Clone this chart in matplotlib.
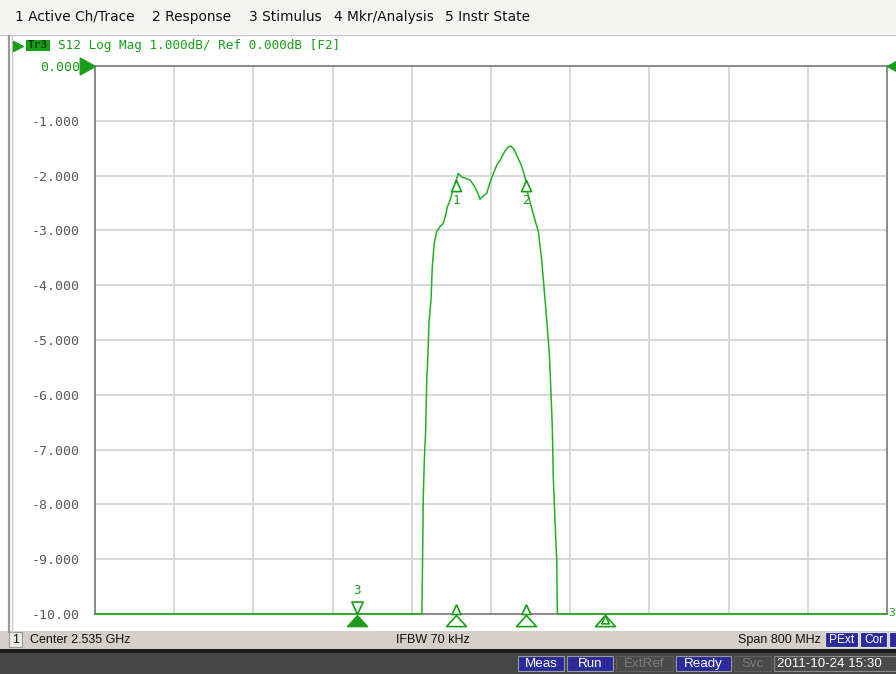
import numpy as np
import matplotlib
matplotlib.use('Agg')
import matplotlib.pyplot as plt
import matplotlib.transforms as mtransforms
from matplotlib.patches import Rectangle
from matplotlib.path import Path

# ---------------- data ----------------
freq_ghz = [2.1350, 2.2500, 2.3500, 2.4000, 2.4400, 2.4600, 2.4652, 2.4656,
            2.4666, 2.4676, 2.4690, 2.4701, 2.4711, 2.4724, 2.4744, 2.4757,
            2.4777, 2.4802, 2.4835, 2.4868, 2.4892, 2.4909, 2.4936, 2.4966,
            2.5000, 2.5020, 2.5057, 2.5097, 2.5138, 2.5178, 2.5219, 2.5239,
            2.5269, 2.5307, 2.5340, 2.5370, 2.5411, 2.5441, 2.5491, 2.5522,
            2.5552, 2.5582, 2.5623, 2.5653, 2.5676, 2.5700, 2.5724, 2.5794,
            2.5828, 2.5862, 2.5885, 2.5913, 2.5939, 2.5956, 2.5969, 2.5979,
            2.5996, 2.6014, 2.6020, 2.6200, 2.6500, 2.7500, 2.8500, 2.9350]
s12_db = [-55.0, -48.0, -44.0, -38.367, -30.0, -20.0, -12.0, -9.43,
          -7.86, -7.22, -6.64, -5.73, -5.36, -4.67, -4.27, -3.66,
          -3.23, -3.02, -2.93, -2.87, -2.72, -2.57, -2.45, -2.26,
          -2.0717, -1.96, -2.03, -2.05, -2.08, -2.18, -2.33, -2.43,
          -2.38, -2.32, -2.13, -1.98, -1.80, -1.72, -1.55, -1.48,
          -1.46, -1.52, -1.68, -1.80, -1.92, -2.0758, -2.35, -2.81,
          -3.02, -3.54, -4.03, -4.64, -5.24, -5.97, -6.58, -7.49,
          -8.28, -9.01, -10.5, -25.0, -46.93, -55.0, -58.0, -60.0]

marker_ids = ['1', '2', '3', '4']
marker_freq_ghz = [2.500, 2.570, 2.400, 2.650]
marker_db = [-2.0717, -2.0758, -38.367, -46.930]
active_marker = '3'

center_ghz = 2.535
span_mhz = 800
ifbw_khz = 70
ref_db = 0.0
scale_db = 1.0
n_div = 10

y_tick_labels = ['0.000', '-1.000', '-2.000', '-3.000', '-4.000', '-5.000',
                 '-6.000', '-7.000', '-8.000', '-9.000', '-10.00']
menu_items = ['1 Active Ch/Trace', '2 Response', '3 Stimulus',
              '4 Mkr/Analysis', '5 Instr State']
menu_x = [15, 152, 249, 334, 445]

GREEN = '#1a9e1a'
GRID = '#d6d6d6'
FRAME = '#8a8a8a'
MONO = 'DejaVu Sans Mono'

W, H = 896, 674
fig = plt.figure(figsize=(W / 100, H / 100), dpi=100)
fig.patch.set_facecolor('white')

# background / decoration axes in pixel coordinates
bg = fig.add_axes([0, 0, 1, 1], zorder=0)
bg.set_xlim(0, W)
bg.set_ylim(H, 0)
bg.axis('off')

# menu bar
bg.add_patch(Rectangle((0, 0), W, 34, color='#f4f4f2', lw=0))
bg.plot([0, W], [34.5, 34.5], color='#c8c8c8', lw=1)
for txt, x in zip(menu_items, menu_x):
    bg.text(x, 17, txt, fontsize=9.9, family='DejaVu Sans', color='#111111',
            va='center', ha='left')

# window frame left
bg.plot([8.5, 8.5], [36, 632], color='#9a9a9a', lw=1.6)
bg.plot([11.5, 11.5], [36, 632], color='#c8c8c8', lw=1.0)

# title line
bg.plot([18], [45.5], marker='>', color=GREEN, ms=7, mec=GREEN)
bg.add_patch(Rectangle((26, 40), 24, 11, color='#14a014', lw=0))
bg.text(38, 45.5, 'Tr3', fontsize=8, family=MONO, color='#0a3a0a',
        ha='center', va='center', fontweight='bold')
bg.text(58, 45.5, f'S12 Log Mag {scale_db:.3f}dB/ Ref {ref_db:.3f}dB [F2]',
        fontsize=9.2, family=MONO, color=GREEN, ha='left', va='center')

# ---------------- main plot ----------------
L, R, T, B = 95, 887, 66, 614
ax = fig.add_axes([L / W, 1 - B / H, (R - L) / W, (B - T) / H], zorder=1)
ax.set_facecolor('white')
f_start = center_ghz - span_mhz / 2000
f_stop = center_ghz + span_mhz / 2000
y_bot = ref_db - n_div * scale_db
ax.set_xlim(f_start, f_stop)
ax.set_ylim(y_bot, ref_db)
ax.set_xticks(np.linspace(f_start, f_stop, n_div + 1))
ax.set_xticklabels([])
ax.set_yticks(np.linspace(ref_db, y_bot, n_div + 1))
ax.set_yticklabels(y_tick_labels, family=MONO, fontsize=9.5)
for i, lab in enumerate(ax.get_yticklabels()):
    lab.set_color(GREEN if i == 0 else '#5a5a5a')
ax.tick_params(length=0, pad=11)
ax.grid(True, color=GRID, lw=1.3)
ax.set_axisbelow(True)
for s in ax.spines.values():
    s.set_color(FRAME)
    s.set_linewidth(1.4)

# trace (clipped to screen like the instrument)
trace_disp = np.clip(np.array(s12_db), y_bot, ref_db)
ax.plot(freq_ghz, trace_disp, color='#22b022', lw=1.1, zorder=3, clip_on=False)

# marker table
rows_y = [80, 94, 108, 122]
for mid, mf, mv, y in zip(marker_ids, marker_freq_ghz, marker_db, rows_y):
    lab = ('>' + mid) if mid == active_marker else mid
    kw = dict(fontsize=9.2, family=MONO, color=GREEN, va='center')
    bg.text(118, y, lab, ha='right', **kw)
    bg.text(136, y, f'{mf:.9f}', ha='left', **kw)
    bg.text(237, y, 'GHz', ha='left', **kw)
    bg.text(263, y, f'{mv:.4f}' if abs(mv) < 10 else f'{mv:.3f}', ha='left', **kw)
    bg.text(333, y, 'dB', ha='left', **kw)

# marker symbols
tri_up = Path([(0, 0), (-0.45, -1), (0.45, -1), (0, 0)])
tri_down = Path([(0, 0), (-0.45, 1), (0.45, 1), (0, 0)])
small_on_line = Path([(0, 1), (-0.45, 0), (0.45, 0), (0, 1)])
wide_up = Path([(0, 0), (-0.9, -1), (0.9, -1), (0, 0)])
ms_kw = dict(color=GREEN, mfc='white', mec=GREEN, mew=1.2, ls='none',
             clip_on=False, zorder=5)
below = mtransforms.offset_copy(ax.transData, fig=fig, x=0, y=-1, units='dots')
for mid, mf, mv in zip(marker_ids, marker_freq_ghz, marker_db):
    vis = max(mv, y_bot)
    if mid == active_marker:
        ax.plot([mf], [vis], marker=tri_down, ms=18, **ms_kw)
        ax.annotate(mid, (mf, vis), xytext=(0, 17), textcoords='offset points',
                    ha='center', va='center', fontsize=9, family=MONO, color=GREEN)
        ax.plot([mf], [y_bot], marker=wide_up, ms=16, color=GREEN, mec=GREEN,
                ls='none', clip_on=False, zorder=5, transform=below)
    else:
        if mv >= y_bot:
            ax.plot([mf], [mv], marker=tri_up, ms=16, **ms_kw)
            ax.annotate(mid, (mf, mv), xytext=(0, -15), textcoords='offset points',
                        ha='center', va='center', fontsize=9, family=MONO,
                        color=GREEN)
            ax.plot([mf], [y_bot], marker=small_on_line, ms=14, **ms_kw)
        ax.plot([mf], [y_bot], marker=wide_up, ms=16, transform=below, **ms_kw)
        if mv < y_bot:
            ax.plot([mf], [y_bot], marker=tri_up, ms=12, transform=below, **ms_kw)

# reference level arrows
ax.plot([f_start], [ref_db], marker=Path([(0, 0), (-1, 0.55), (-1, -0.55), (0, 0)]),
        ms=22, color=GREEN, mec=GREEN, clip_on=False, zorder=6)
ax.plot([f_stop], [ref_db], marker=Path([(0, 0), (1, 0.55), (1, -0.55), (0, 0)]),
        ms=22, color=GREEN, mec=GREEN, clip_on=False, zorder=6)
ax.annotate('3', (f_stop, y_bot), xytext=(1, 1), textcoords='offset points',
            ha='left', va='center', fontsize=8, family=MONO, color=GREEN)

# ---------------- status bars ----------------
bg.add_patch(Rectangle((0, 631), W, 18, color='#d4d0c8', lw=0))
bg.add_patch(Rectangle((9, 632), 13, 15, fc='#ecebe6', ec='#9a9a9a', lw=0.8))
sb = dict(fontsize=9.0, family='Liberation Sans', color='#111111', va='center')
bg.text(15.5, 640, '1', ha='center', **sb)
bg.text(30, 640, f'Center {center_ghz:.3f} GHz', ha='left', **sb)
bg.text(433, 640, f'IFBW {ifbw_khz} kHz', ha='center', **sb)
bg.text(821, 640, f'Span {span_mhz} MHz', ha='right', **sb)
for x0, x1, t in [(825, 858, 'PExt'), (860, 887, 'Cor'), (889, 900, '')]:
    bg.add_patch(Rectangle((x0, 632), x1 - x0, 15, fc='#2b2b9b', ec='#e0e0e0', lw=0.8))
    bg.text((x0 + x1) / 2, 640, t, ha='center', fontsize=8.6,
            family='Liberation Sans', color='white', va='center')

bg.add_patch(Rectangle((0, 649), W, 4, color='#1c1c1c', lw=0))
bg.add_patch(Rectangle((0, 653), W, 21, color='#454545', lw=0))
status2 = [(518, 564, 'Meas', True), (567, 613, 'Run', True),
           (616, 673, 'ExtRef', False), (676, 731, 'Ready', True),
           (734, 771, 'Svc', False)]
for x0, x1, t, on in status2:
    bg.add_patch(Rectangle((x0, 656), x1 - x0, 15,
                           fc='#2b2b9b' if on else '#4a4a4a',
                           ec='#9a9a9a' if on else '#5e5e5e', lw=0.8))
    bg.text((x0 + x1) / 2, 664, t, ha='center', va='center', fontsize=9.6,
            family='Liberation Sans', color='white' if on else '#7c7c7c')
bg.add_patch(Rectangle((774, 656), 130, 15, fc='#4a4a4a', ec='#8a8a8a', lw=0.8))
bg.text(777, 664, '2011-10-24 15:30', ha='left', va='center', fontsize=9.6,
        family='Liberation Sans', color='white')

fig.savefig('out.png', dpi=100)
